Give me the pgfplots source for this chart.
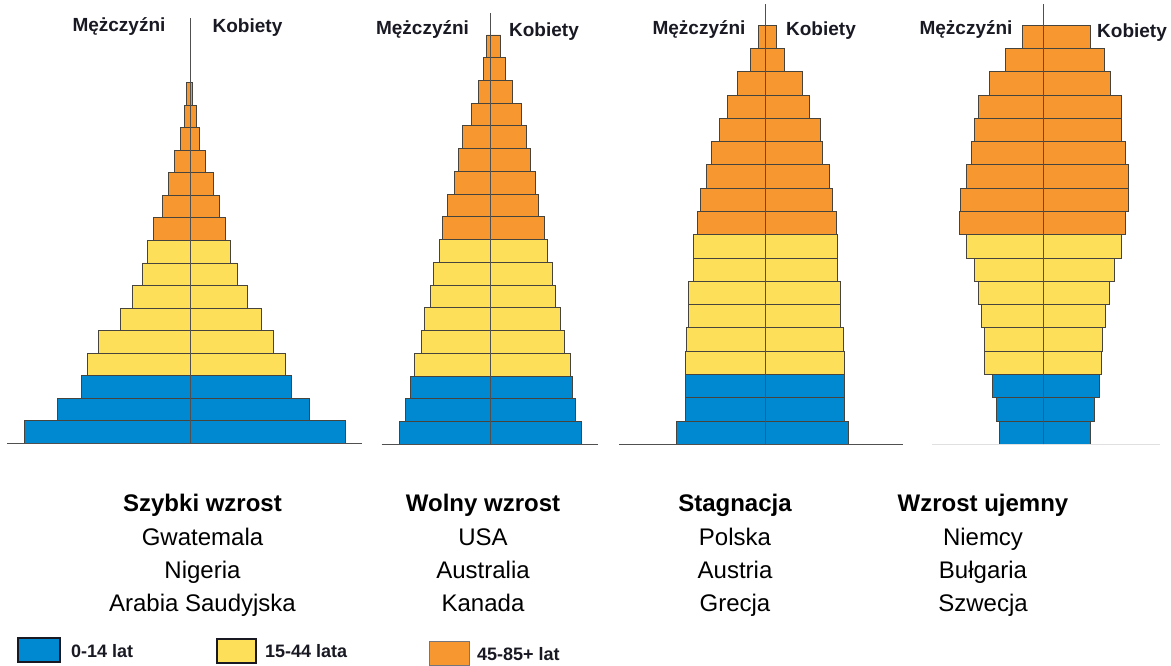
\documentclass[border=0pt]{standalone}
\usepackage{pgfplots}
\pgfplotsset{compat=1.18}
\usepackage{fontspec}
\setmainfont{Liberation Sans}
\definecolor{cblue}{RGB}{0,137,208}
\definecolor{cyellow}{RGB}{254,223,90}
\definecolor{corange}{RGB}{247,151,48}
\definecolor{edge}{RGB}{70,68,60}
\definecolor{linec}{RGB}{80,80,80}
\definecolor{txt}{RGB}{25,25,35}
\pgfplotsset{
  pyr/.style={scale only axis, axis on top, x=1pt, ymin=0,
    axis x line*=bottom, axis y line=none, xtick=\empty, ytick=\empty,
    extra x ticks={0}, extra x tick labels={},
    extra x tick style={major tick length=0pt, grid=major,
      major grid style={line width=0.8pt, draw=linec}},
    axis line style={line width=1.1pt, draw=linec}, anchor=south west,
    enlargelimits=false, clip=false},
  pbar/.style={xbar, bar width=1, bar shift=0pt, draw=edge, line width=0.9pt},
}
\begin{document}
\begin{tikzpicture}
\useasboundingbox (0,0) rectangle (1171pt,-666pt);
% Pyramid 1
\begin{axis}[pyr, at={(7.3pt,-443.3pt)}, y=22.54pt, xmin=-182.7, xmax=171.7, ymax=18.87]
\addplot[pbar, fill=cblue] coordinates {(-166,0.5)(155.7,0.5)(-132.7,1.5)(119,1.5)(-109,2.5)(101.3,2.5)};
\addplot[pbar, fill=cyellow] coordinates {(-102.7,3.5)(95,3.5)(-92,4.5)(83.3,4.5)(-70,5.5)(71.7,5.5)(-57.3,6.5)(57,6.5)(-47.7,7.5)(47.3,7.5)(-42.3,8.5)(40.7,8.5)};
\addplot[pbar, fill=corange] coordinates {(-36.3,9.5)(35.7,9.5)(-27.7,10.5)(29.3,10.5)(-21.7,11.5)(23.3,11.5)(-15.3,12.5)(15.3,12.5)(-10,13.5)(9.3,13.5)(-6,14.5)(6,14.5)(-3.3,15.5)(2.7,15.5)};
\end{axis}
% Pyramid 2
\begin{axis}[pyr, at={(381.7pt,-444.3pt)}, y=22.74pt, xmin=-109, xmax=107.3, ymax=18.97]
\addplot[pbar, fill=cblue] coordinates {(-91.3,0.5)(91,0.5)(-85.7,1.5)(85,1.5)(-80,2.5)(81.7,2.5)};
\addplot[pbar, fill=cyellow] coordinates {(-76.3,3.5)(79.3,3.5)(-69.7,4.5)(73.3,4.5)(-66.7,5.5)(70,5.5)(-60.7,6.5)(65,6.5)(-57.3,7.5)(62,7.5)(-51.3,8.5)(56.7,8.5)};
\addplot[pbar, fill=corange] coordinates {(-48.3,9.5)(54,9.5)(-43,10.5)(48,10.5)(-36.3,11.5)(45,11.5)(-32.3,12.5)(39.7,12.5)(-28.3,13.5)(35.3,13.5)(-19.7,14.5)(31,14.5)(-12.3,15.5)(22,15.5)(-7.3,16.5)(14.3,16.5)(-4,17.5)(10,17.5)};
\end{axis}
% Pyramid 3
\begin{axis}[pyr, at={(619pt,-444.3pt)}, y=23.28pt, xmin=-146, xmax=137.7, ymax=18.91]
\addplot[pbar, fill=cblue] coordinates {(-89,0.5)(83,0.5)(-80,1.5)(79,1.5)(-80,2.5)(79,2.5)};
\addplot[pbar, fill=cyellow] coordinates {(-79.7,3.5)(79.3,3.5)(-79,4.5)(78.3,4.5)(-76.7,5.5)(75,5.5)(-76.7,6.5)(75,6.5)(-71.7,7.5)(72.3,7.5)(-71.7,8.5)(72.7,8.5)};
\addplot[pbar, fill=corange] coordinates {(-67.7,9.5)(71.7,9.5)(-64.3,10.5)(67.3,10.5)(-58.3,11.5)(64,11.5)(-54,12.5)(57.7,12.5)(-46,13.5)(55,13.5)(-37.3,14.5)(44,14.5)(-27.3,15.5)(37.3,15.5)(-15,16.5)(19,16.5)(-6.7,17.5)(11,17.5)};
\end{axis}
% Pyramid 4
\begin{axis}[pyr, at={(931.7pt,-444.3pt)}, y=23.28pt, xmin=-111.6, xmax=116.7, ymax=18.91,
  axis line style={line width=1pt, draw=black!12}]
\addplot[pbar, fill=cblue] coordinates {(-44,0.5)(47.3,0.5)(-47.3,1.5)(50.7,1.5)(-51,2.5)(56,2.5)};
\addplot[pbar, fill=cyellow] coordinates {(-59,3.5)(58.3,3.5)(-59,4.5)(59.3,4.5)(-61.7,5.5)(61.7,5.5)(-65,6.5)(66,6.5)(-69.3,7.5)(71,7.5)(-76.7,8.5)(78.3,8.5)};
\addplot[pbar, fill=corange] coordinates {(-84,9.5)(81.7,9.5)(-83.3,10.5)(85,10.5)(-76.7,11.5)(85,11.5)(-72.3,12.5)(81.7,12.5)(-69.3,13.5)(78.3,13.5)(-65,14.5)(78.3,14.5)(-54.3,15.5)(66.7,15.5)(-38.3,16.5)(61,16.5)(-20.7,17.5)(46.7,17.5)};
\end{axis}
% top labels
\begin{scope}[every node/.style={anchor=base, inner sep=0pt, text=txt, font=\fontsize{19}{22}\selectfont\bfseries}]
\node at (119pt,-31.7pt) {Mężczyźni};
\node at (247.5pt,-33pt) {Kobiety};
\node at (422.5pt,-34.3pt) {Mężczyźni};
\node at (544pt,-36.7pt) {Kobiety};
\node at (699pt,-34.3pt) {Mężczyźni};
\node at (821pt,-36pt) {Kobiety};
\node at (966pt,-35pt) {Mężczyźni};
\node at (1132pt,-37.3pt) {Kobiety};
\end{scope}
% captions
\begin{scope}[every node/.style={anchor=base, inner sep=0pt, text=black, font=\fontsize{24}{28}\selectfont}]
\node[font=\fontsize{24}{28}\selectfont\bfseries] at (202.5pt,-511.7pt) {Szybki wzrost};
\node at (202.5pt,-545pt) {Gwatemala};
\node at (202.5pt,-578.3pt) {Nigeria};
\node at (202.5pt,-611.7pt) {Arabia Saudyjska};
\node[font=\fontsize{24}{28}\selectfont\bfseries] at (483pt,-511.7pt) {Wolny wzrost};
\node at (483pt,-545pt) {USA};
\node at (483pt,-578.3pt) {Australia};
\node at (483pt,-611.7pt) {Kanada};
\node[font=\fontsize{24}{28}\selectfont\bfseries] at (735pt,-511.7pt) {Stagnacja};
\node at (735pt,-545pt) {Polska};
\node at (735pt,-578.3pt) {Austria};
\node at (735pt,-611.7pt) {Grecja};
\node[font=\fontsize{24}{28}\selectfont\bfseries] at (983pt,-511.7pt) {Wzrost ujemny};
\node at (983pt,-545pt) {Niemcy};
\node at (983pt,-578.3pt) {Bułgaria};
\node at (983pt,-611.7pt) {Szwecja};
\end{scope}
% legend
\draw[fill=cblue, draw=txt, line width=1.2pt] (18pt,-638pt) rectangle (60pt,-662pt);
\draw[fill=cyellow, draw=txt, line width=1.2pt] (217pt,-639pt) rectangle (256pt,-663pt);
\draw[fill=corange, draw=txt!60, line width=1pt] (429pt,-641pt) rectangle (469pt,-665pt);
\begin{scope}[every node/.style={anchor=base west, inner sep=0pt, text=txt, font=\fontsize{18}{22}\selectfont\bfseries}]
\node at (71pt,-657.7pt) {0-14 lat};
\node at (265pt,-657.7pt) {15-44 lata};
\node at (477pt,-660pt) {45-85+ lat};
\end{scope}
\end{tikzpicture}
\end{document}
